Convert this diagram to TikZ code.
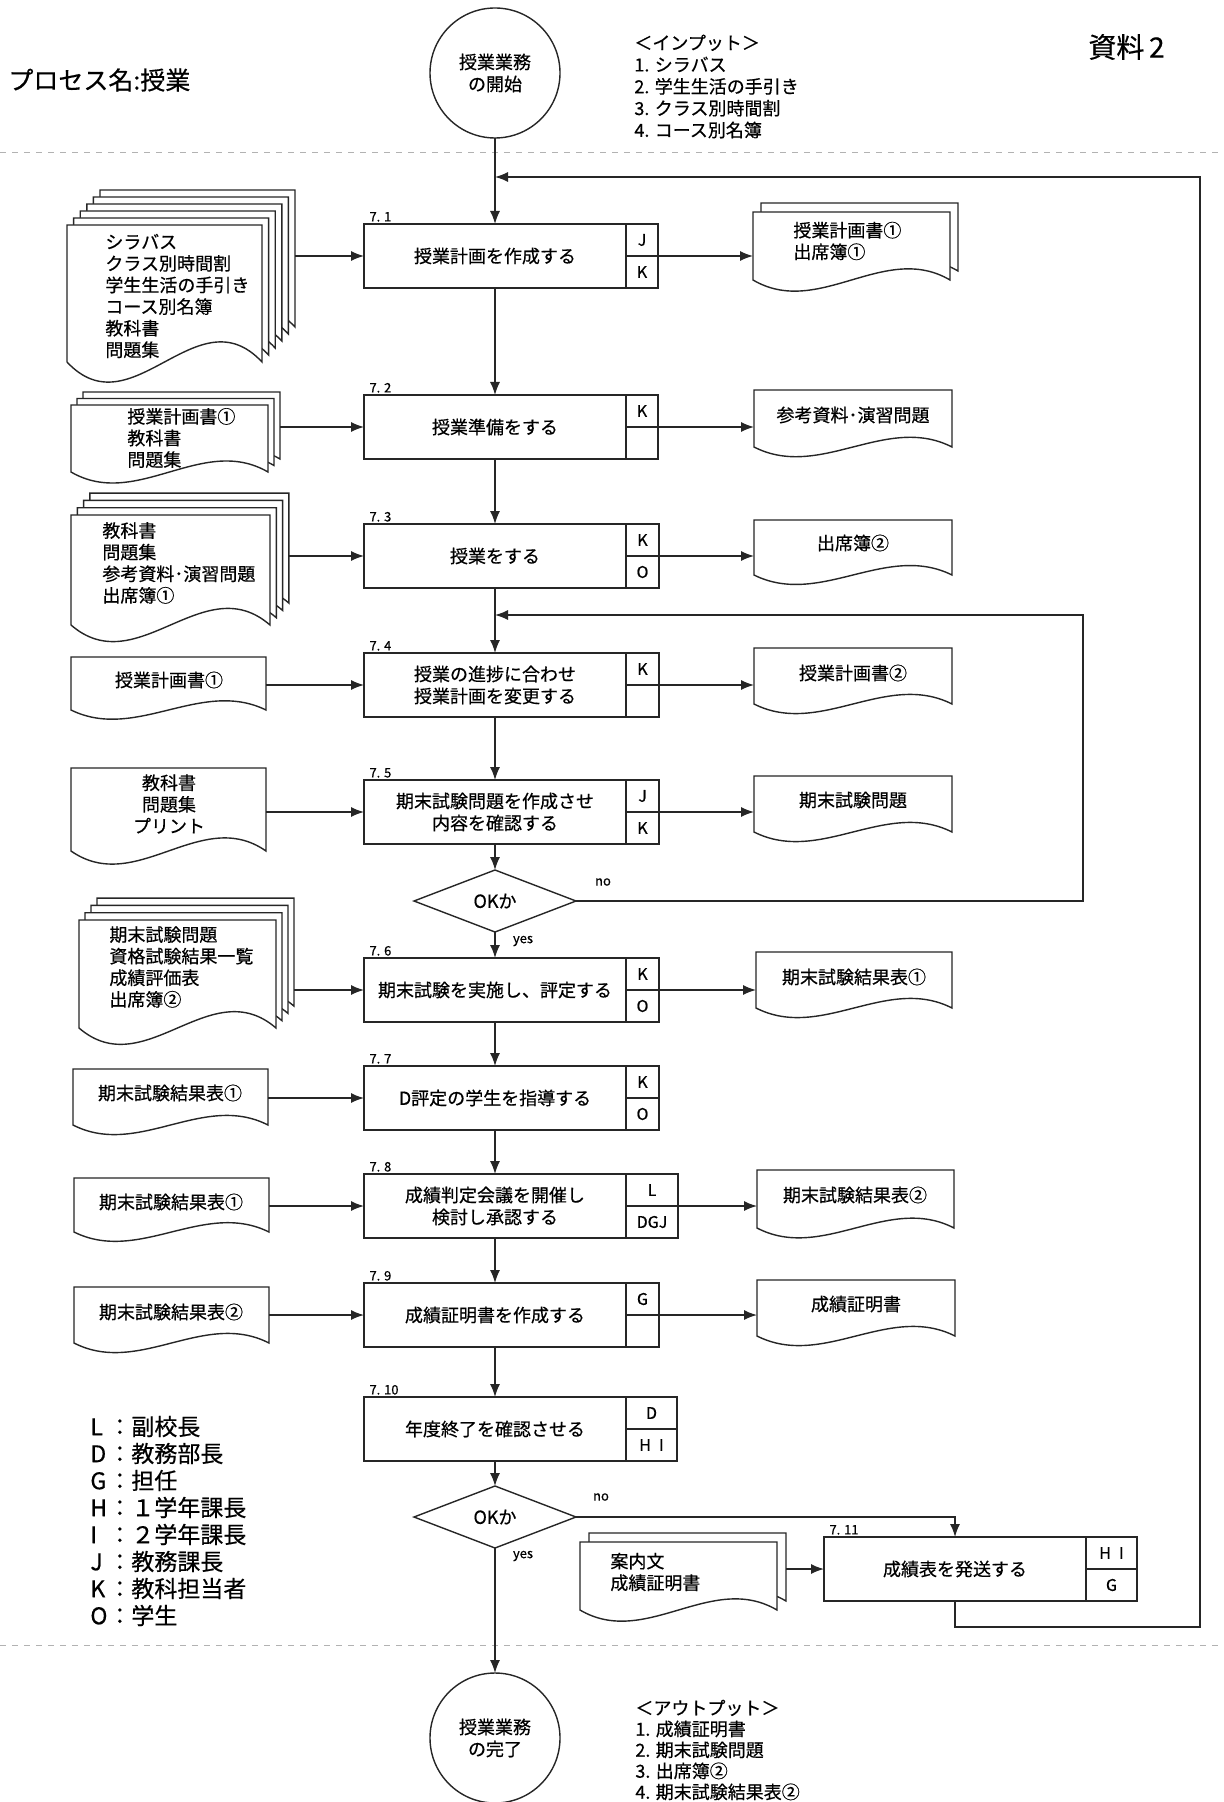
\documentclass[tikz,border=0pt]{standalone}
\usepackage{fontspec}
\setmainfont{Noto Sans CJK JP}[FakeBold=0.5]
\usetikzlibrary{arrows.meta,shapes.geometric,calc,fit}
\tikzset{
  ln/.style={line width=0.7pt, draw=black!85},
  arr/.style={ln, -{Latex[length=6.5pt,width=5pt]}},
  pbox/.style={ln, rectangle, minimum width=131pt, minimum height=32pt, inner sep=0pt, outer sep=0pt, align=center, font=\fontsize{9}{11}\selectfont},
  rbox/.style={ln, rectangle, minimum height=32pt, inner sep=0pt, outer sep=0pt},
  rlet/.style={inner sep=0pt, font=\fontsize{8}{9}\selectfont},
  num/.style={anchor=south west, inner sep=0.5pt, font=\fontsize{6.5}{7}\selectfont},
  txt/.style={inner sep=0pt, font=\fontsize{9}{10.8}\selectfont},
  docfit/.style={inner sep=0pt, outer sep=0pt},
  dec/.style={ln, diamond, minimum width=81pt, minimum height=31pt, inner sep=0pt, outer sep=0pt, font=\fontsize{9}{11}\selectfont},
  term/.style={ln, circle, minimum size=65pt, inner sep=0pt, outer sep=0pt, align=center, font=\fontsize{9}{11}\selectfont},
  yn/.style={inner sep=0pt, font=\fontsize{6.5}{7}\selectfont},
  sep/.style={draw=black!30, dashed, line width=0.5pt},
}
\newcommand\docpath[4]{%
  \pgfmathsetmacro\dL{#1}\pgfmathsetmacro\dT{#2}%
  \pgfmathsetmacro\dR{#3}\pgfmathsetmacro\dB{#4}%
  \pgfmathsetmacro\dC{0.45*(\dB-\dT)+8}%
  \filldraw[ln,fill=white] (\dL,\dT) -- (\dR,\dT) -- (\dR,\dB)
    .. controls ({\dL+(\dR-\dL)*2/3},{\dB-\dC}) and ({\dL+(\dR-\dL)/3},{\dB+\dC}) .. (\dL,\dB) -- cycle;}
\newcommand\docstack[7]{%
  \foreach \k in {#5,...,1}{\docpath{(#1)+\k*(#6)}{(#2)-\k*(#7)}{(#3)+\k*(#6)}{(#4)-\k*(#7)}}%
  \docpath{#1}{#2}{#3}{#4}}
\newcommand\pstep[8]{%
  \node[pbox] (#1) at (#2,#3) {#4};
  \node[rbox, minimum width=#5, anchor=west] (#1r) at (#1.east) {};
  \draw[ln] (#1r.west) -- (#1r.east);
  \node[rlet] (#1a) at ($(#1r.north)!0.5!(#1r.center)$) {#6};
  \node[rlet] (#1b) at ($(#1r.south)!0.5!(#1r.center)$) {#7};
  \node[num] (#1n) at ($(#1.north west)+(4,-1)$) {#8};}
\begin{document}
\begin{tikzpicture}[x=0.5pt,y=-0.5pt]
\useasboundingbox (0,0) rectangle (1223,1802);
\fill[white] (0,0) rectangle (1223,1802);
\draw[sep] (0,153) -- (1223,153);
\draw[sep] (0,1645) -- (1223,1645);

% header texts
\node[anchor=west, inner sep=0pt, font=\fontsize{12.5}{14}\selectfont] (title) at (8,80) {プロセス名:授業};
\node[anchor=west, inner sep=0pt, font=\fontsize{14}{16}\selectfont] (docno) at (1088,47) {資料\,2};
\node[txt, anchor=west, align=left, font=\fontsize{9}{10.9}\selectfont] (inlist) at (634,86.5) {＜インプット＞\\1. シラバス\\2. 学生生活の手引き\\3. クラス別時間割\\4. コース別名簿};
\node[txt, anchor=west, align=left, font=\fontsize{9}{10.5}\selectfont] (outlist) at (635,1750) {＜アウトプット＞\\1. 成績証明書\\2. 期末試験問題\\3. 出席簿②\\4. 期末試験結果表②};

% legend
\node[txt, anchor=west, align=left, font=\fontsize{11.5}{13.5}\selectfont] (legend) at (90,1521) {%
\makebox[9pt][l]{L}：副校長\\
\makebox[9pt][l]{D}：教務部長\\
\makebox[9pt][l]{G}：担任\\
\makebox[9pt][l]{H}：１学年課長\\
\makebox[9pt][l]{I}：２学年課長\\
\makebox[9pt][l]{J}：教務課長\\
\makebox[9pt][l]{K}：教科担当者\\
\makebox[9pt][l]{O}：学生};

% terminals
\node[term] (start) at (495,73) {授業業務\\の開始};
\node[term] (fin) at (495,1738) {授業業務\\の完了};

% process steps
\pstep{p1}{495}{256}{授業計画を作成する}{16pt}{J}{K}{7. 1}
\pstep{p2}{495}{427}{授業準備をする}{16pt}{K}{}{7. 2}
\pstep{p3}{495}{556}{授業をする}{16.5pt}{K}{O}{7. 3}
\pstep{p4}{495}{685}{授業の進捗に合わせ\\授業計画を変更する}{16.5pt}{K}{}{7. 4}
\pstep{p5}{495}{812}{期末試験問題を作成させ\\内容を確認する}{16.5pt}{J}{K}{7. 5}
\pstep{p6}{495}{990}{期末試験を実施し、評定する}{16.5pt}{K}{O}{7. 6}
\pstep{p7}{495}{1098}{D評定の学生を指導する}{16.5pt}{K}{O}{7. 7}
\pstep{p8}{495}{1206}{成績判定会議を開催し\\検討し承認する}{26pt}{L}{DGJ}{7. 8}
\pstep{p9}{495}{1315}{成績証明書を作成する}{16.5pt}{G}{}{7. 9}
\pstep{p10}{495}{1429}{年度終了を確認させる}{25.5pt}{D}{H\enspace I}{7. 10}
\pstep{p11}{955}{1569}{成績表を発送する}{25.5pt}{H\enspace I}{G}{7. 11}

% decisions
\node[dec] (d1) at (495,901) {OKか};
\node[dec] (d2) at (495,1517) {OKか};

% input documents
\docstack{67}{225}{262}{362}{5}{6.6}{7}
\node[docfit, fit={(67,190) (295,362)}] (i1) {};
\node[txt, anchor=west, align=left] (i1t) at (105,296) {シラバス\\クラス別時間割\\学生生活の手引き\\コース別名簿\\教科書\\問題集};

\docstack{71}{405}{268}{472}{2}{6}{6.5}
\node[docfit, fit={(71,392) (280,472)}] (i2) {};
\node[txt, anchor=west, align=left] (i2t) at (127,438) {授業計画書①\\教科書\\問題集};

\docstack{71}{515}{270}{625}{3}{6.3}{7.3}
\node[docfit, fit={(71,493) (289,625)}] (i3) {};
\node[txt, anchor=west, align=left] (i3t) at (102,563) {教科書\\問題集\\参考資料･演習問題\\出席簿①};

\docpath{71}{657}{266}{710}
\node[docfit, fit={(71,657) (266,710)}] (i4) {};
\node[txt] (i4t) at (169,680) {授業計画書①};

\docpath{71}{768}{266}{851}
\node[docfit, fit={(71,768) (266,851)}] (i5) {};
\node[txt, align=center] (i5t) at (169,804) {教科書\\問題集\\プリント};

\docstack{79}{920}{276}{1028}{3}{6}{7.3}
\node[docfit, fit={(79,898) (294,1028)}] (i6) {};
\node[txt, anchor=west, align=left] (i6t) at (109,967) {期末試験問題\\資格試験結果一覧\\成績評価表\\出席簿②};

\docpath{73}{1069}{268}{1125}
\node[docfit, fit={(73,1069) (268,1125)}] (i7) {};
\node[txt] (i7t) at (170,1093) {期末試験結果表①};

\docpath{74}{1178}{269}{1232}
\node[docfit, fit={(74,1178) (269,1232)}] (i8) {};
\node[txt] (i8t) at (171,1202) {期末試験結果表①};

\docpath{74}{1287}{269}{1343}
\node[docfit, fit={(74,1287) (269,1343)}] (i9) {};
\node[txt] (i9t) at (171,1312) {期末試験結果表②};

\docstack{580}{1542}{777}{1610}{1}{9}{9}
\node[docfit, fit={(580,1533) (786,1610)}] (i11) {};
\node[txt, anchor=west, align=left] (i11t) at (610,1572) {案内文\\成績証明書};

% output documents
\docstack{753}{212}{950}{280}{1}{8}{9}
\node[docfit, fit={(753,203) (958,280)}] (o1) {};
\node[txt, anchor=west, align=left] (o1t) at (793,241) {授業計画書①\\出席簿①};

\docpath{754}{390}{952}{447}
\node[docfit, fit={(754,390) (952,447)}] (o2) {};
\node[txt] (o2t) at (853,415) {参考資料･演習問題};

\docpath{754}{520}{952}{575}
\node[docfit, fit={(754,520) (952,575)}] (o3) {};
\node[txt] (o3t) at (853,543) {出席簿②};

\docpath{754}{648}{952}{704}
\node[docfit, fit={(754,648) (952,704)}] (o4) {};
\node[txt] (o4t) at (853,673) {授業計画書②};

\docpath{754}{776}{952}{832}
\node[docfit, fit={(754,776) (952,832)}] (o5) {};
\node[txt] (o5t) at (853,800) {期末試験問題};

\docpath{756}{952}{952}{1008}
\node[docfit, fit={(756,952) (952,1008)}] (o6) {};
\node[txt] (o6t) at (854,977) {期末試験結果表①};

\docpath{757}{1170}{954}{1228}
\node[docfit, fit={(757,1170) (954,1228)}] (o8) {};
\node[txt] (o8t) at (855,1195) {期末試験結果表②};

\docpath{757}{1280}{955}{1336}
\node[docfit, fit={(757,1280) (955,1336)}] (o9) {};
\node[txt] (o9t) at (856,1304) {成績証明書};

% coordinates for loops
\coordinate (m2) at (495,177);
\coordinate (c2) at (1200,1627);
\coordinate (m1) at (495,615);
\coordinate (c1) at (1083,615);

% main flow
\draw[arr] (start) -- (p1);
\draw[arr] (p1) -- (p2);
\draw[arr] (p2) -- (p3);
\draw[arr] (p3) -- (p4);
\draw[arr] (p4) -- (p5);
\draw[arr] (p5) -- (d1);
\draw[arr] (d1) -- (p6);
\draw[arr] (p6) -- (p7);
\draw[arr] (p7) -- (p8);
\draw[arr] (p8) -- (p9);
\draw[arr] (p9) -- (p10);
\draw[arr] (p10) -- (d2);
\draw[arr] (d2) -- (fin);

% loops
\draw[arr] (d1.east) -| (c1) -- (m1);
\draw[arr] (p11.south) |- (c2) |- (m2);
\draw[arr] (d2.east) -| (p11.north);

\node[yn] (no1) at ($(d1.east)+(27,-19)$) {no};
\node[yn] (yes1) at ($(d1.south)+(28,9)$) {yes};
\node[yn] (no2) at ($(d2.east)+(25,-20)$) {no};
\node[yn] (yes2) at ($(d2.south)+(28,8)$) {yes};

% inputs
\draw[arr] (i1.east |- p1.west) -- (p1.west);
\draw[arr] (i2.east |- p2.west) -- (p2.west);
\draw[arr] (i3.east |- p3.west) -- (p3.west);
\draw[arr] (i4.east |- p4.west) -- (p4.west);
\draw[arr] (i5.east |- p5.west) -- (p5.west);
\draw[arr] (i6.east |- p6.west) -- (p6.west);
\draw[arr] (i7.east |- p7.west) -- (p7.west);
\draw[arr] (i8.east |- p8.west) -- (p8.west);
\draw[arr] (i9.east |- p9.west) -- (p9.west);
\draw[arr] (i11.east |- p11.west) -- (p11.west);

% outputs
\draw[arr] (p1r.east) -- (p1r.east -| o1.west);
\draw[arr] (p2r.east) -- (p2r.east -| o2.west);
\draw[arr] (p3r.east) -- (p3r.east -| o3.west);
\draw[arr] (p4r.east) -- (p4r.east -| o4.west);
\draw[arr] (p5r.east) -- (p5r.east -| o5.west);
\draw[arr] (p6r.east) -- (p6r.east -| o6.west);
\draw[arr] (p8r.east) -- (p8r.east -| o8.west);
\draw[arr] (p9r.east) -- (p9r.east -| o9.west);
\end{tikzpicture}
\end{document}
